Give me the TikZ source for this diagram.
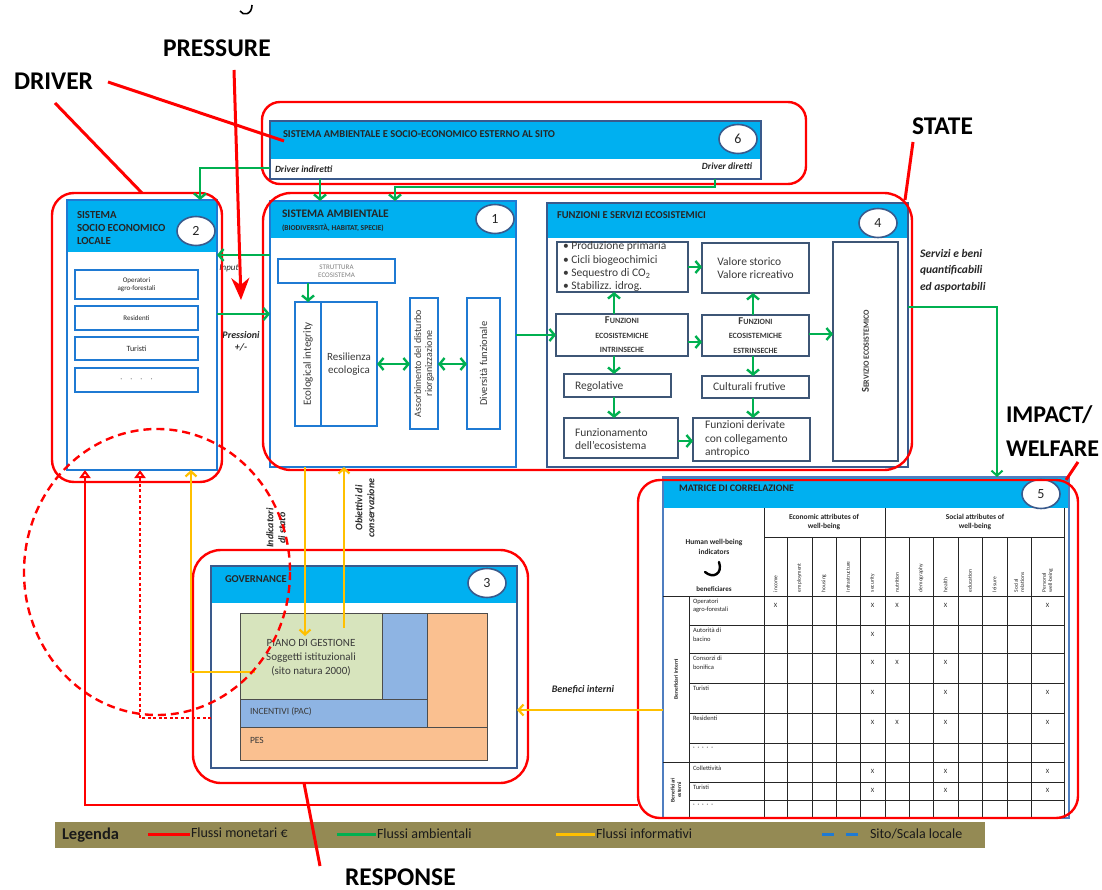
\documentclass[tikz,border=0pt]{standalone}
\usepackage{fontspec}
\setmainfont{Carlito}
\usetikzlibrary{arrows.meta,shapes.geometric}

\definecolor{hdr}{HTML}{00B0F0}
\definecolor{bluA}{HTML}{1F7AD3}
\definecolor{bluM}{HTML}{4F7EC0}
\definecolor{bluD}{HTML}{3A5A8C}
\definecolor{slate}{HTML}{3E5676}
\definecolor{grn}{HTML}{00B050}
\definecolor{ylw}{HTML}{FFC000}
\definecolor{rd}{HTML}{FF0000}
\definecolor{olive}{HTML}{948A54}
\definecolor{pgreen}{HTML}{D7E4BD}
\definecolor{pblue}{HTML}{8EB4E3}
\definecolor{porange}{HTML}{FAC090}
\definecolor{ink}{HTML}{262626}
\definecolor{ink2}{HTML}{3A3A3A}
\definecolor{legtext}{HTML}{1A1A1A}

\newcommand{\fs}[2]{\fontsize{#1}{#2}\selectfont}
\newcommand{\smc}[1]{{\fontsize{10.5}{14.5}\selectfont #1}}

\begin{document}
\begin{tikzpicture}[x=1pt,y=-1pt,
  every node/.style={inner sep=0pt, outer sep=0pt, text=ink},
  redframe/.style={draw=rd, line width=2.4pt, rounded corners=#1, anchor=north west},
  panel/.style 2 args={draw=#1, line width=2pt, fill=white, anchor=north west,
    path picture={\fill[hdr] (path picture bounding box.north west) rectangle ([yshift=-#2]path picture bounding box.north east);}},
  num/.style={ellipse, draw=bluD, line width=1.6pt, fill=white, minimum width=38pt, minimum height=29pt, font=\fs{14}{16}},
  big/.style={font=\bfseries\fs{25.5}{30}, text=black, anchor=base west},
  ttl/.style={font=\bfseries\fs{10.5}{13}, anchor=west, align=left},
  ibox/.style={draw=bluA, line width=2.4pt, fill=white, anchor=north west, align=center},
  sbox/.style={draw=slate, line width=2.4pt, fill=white, anchor=north west},
  rot/.style={rotate=90, align=center},
  txt4/.style={font=\fs{11.5}{13.3}, text=ink2},
  sc4/.style={font=\bfseries\fs{8}{14.5}, align=center, text=ink2},
  cell/.style={draw=black!70, line width=0.7pt, anchor=north west},
  tline/.style={draw=black!85, line width=0.8pt},
  xm/.style={font=\fs{6.5}{7}},
  rowlab/.style={font=\fs{6.5}{8.5}, anchor=north west, align=left},
  collab/.style={font=\fs{5.5}{6.2}, rotate=90, anchor=west, align=left},
  legt/.style={font=\fs{14}{16}, anchor=west, text=legtext},
  gline/.style={draw=grn, line width=2.4pt},
  garrow/.style={gline, -{Straight Barb[length=5pt,width=12pt]}},
  gboth/.style={gline, {Straight Barb[length=5pt,width=12pt]}-{Straight Barb[length=5pt,width=12pt]}},
  yarrow/.style={draw=ylw, line width=2.2pt, -{Straight Barb[length=5pt,width=11pt]}},
  rline/.style={draw=rd, line width=3pt},
  rarrow/.style={draw=rd, line width=2.2pt, -{Triangle[open, length=8pt, width=11pt]}},
  lbl/.style={font=\bfseries\itshape\fs{10}{12}}
]
\useasboundingbox (0,0) rectangle (1102,890);
\fill[white] (0,0) rectangle (1102,890);

% ---------- headline words of the DPSIR scheme
\draw[line width=1.6pt] (252,5) .. controls (252,15) and (243,16) .. (240,11);
\node[big] (prs) at (163,57) {PRESSURE};
\node[big] (drv) at (14,90) {DRIVER};
\node[big] (st) at (912,135) {STATE};
\node[big, font=\bfseries\fs{24}{28}] (imp) at (1006,422) {IMPACT/};
\node[big, font=\bfseries\fs{24}{28}] (wel) at (1006,456) {WELFARE};
\node[big] (rsp) at (345,885) {RESPONSE};

% ---------- 6: external system
\node[panel={bluD}{38pt}, minimum width=491pt, minimum height=58pt] (p6) at (270,121) {};
\node[ttl] (t6) at (283,134) {SISTEMA AMBIENTALE E SOCIO-ECONOMICO ESTERNO AL SITO};
\node[font=\bfseries\itshape\fs{9.5}{11}, anchor=west] (di) at (275,169) {Driver indiretti};
\node[font=\bfseries\itshape\fs{9.5}{11}, anchor=east] (dd) at (752,166) {Driver diretti};
\node[num] (n6) at (738,139) {6};

% ---------- 2: local socio-economic system
\node[panel={bluA}{52pt}, minimum width=150pt, minimum height=270pt] (p2) at (67,200) {};
\node[ttl, font=\bfseries\fs{10.8}{13}] (t2) at (77,228) {SISTEMA\\SOCIO ECONOMICO\\LOCALE};
\node[num] (n2) at (196,231) {2};
\node[ibox, minimum width=123pt, minimum height=29pt, font=\fs{7}{8.5}] (o1) at (75,270) {Operatori\\agro-forestali};
\node[ibox, minimum width=123pt, minimum height=24pt, font=\fs{7}{8.5}] (o2) at (75,306) {Residenti};
\node[ibox, minimum width=123pt, minimum height=23pt, font=\fs{8}{9}] (o3) at (75,337) {Turisti};
\node[ibox, minimum width=123pt, minimum height=24pt, font=\fs{8}{9}, text=gray] (o4) at (75,368) {·\quad·\quad·\quad·};

% ---------- 1: environmental system
\node[panel={bluA}{37pt}, minimum width=246pt, minimum height=266pt] (p1) at (270,201) {};
\node[ttl, font=\bfseries\fs{11.5}{13}] (t1) at (282,214) {SISTEMA AMBIENTALE};
\node[ttl, font=\bfseries\fs{7.5}{9}] (t1b) at (282,228) {(BIODIVERSITÀ, HABITAT, SPECIE)};
\node[num] (n1) at (495,219) {1};
\node[ibox, minimum width=117pt, minimum height=24pt, font=\fs{7}{8}, text=gray] (s1) at (278,259) {STRUTTURA\\ECOSISTEMA};
\node[ibox, minimum width=26pt, minimum height=124pt] (eco) at (295,302) {};
\node[ibox, minimum width=56pt, minimum height=124pt, font=\fs{11}{13}, text=ink2] (res) at (321,302) {Resilienza\\ecologica};
\node[ibox, minimum width=28pt, minimum height=131pt] (ass) at (410,298) {};
\node[ibox, minimum width=33pt, minimum height=131pt] (div) at (467,298) {};
\node[rot, font=\fs{11}{12}, text=ink2] (teco) at (eco.center) {Ecological integrity};
\node[rot, font=\fs{10}{11}, text=ink2] (tass) at (ass.center) {Assorbimento del disturbo\\riorganizzazione};
\node[rot, font=\fs{10.5}{12}, text=ink2] (tdiv) at (div.center) {Diversità funzionale};

% ---------- 4: ecosystem functions and services
\node[panel={bluD}{35pt}, minimum width=361pt, minimum height=264pt] (p4) at (547,203) {};
\node[ttl, font=\bfseries\fs{10.5}{12}] (t4) at (557,215) {FUNZIONI E SERVIZI ECOSISTEMICI};
\node[num] (n4) at (878,223) {4};
\node[sbox, minimum width=131pt, minimum height=50pt] (bul) at (557,242) {};
\node[txt4, anchor=north west, align=left] (tbul) at (563,242) {• Produzione primaria\\• Cicli biogeochimici\\• Sequestro di CO\textsubscript{2}\\• Stabilizz. idrog.};
\node[sbox, minimum width=107pt, minimum height=50pt] (val) at (702,243) {};
\node[txt4, align=left] (tval) at (val.center) {Valore storico\\Valore ricreativo};
\node[sbox, minimum width=132pt, minimum height=42pt] (intr) at (556,314) {};
\node[sc4] (tintr) at (intr.center) {\smc{F}UNZIONI\\ECOSISTEMICHE\\INTRINSECHE};
\node[sbox, minimum width=107pt, minimum height=41pt] (estr) at (702,315) {};
\node[sc4] (testr) at (estr.center) {\smc{F}UNZIONI\\ECOSISTEMICHE\\ESTRINSECHE};
\node[sbox, minimum width=65pt, minimum height=219pt] (serv) at (833,242) {};
\node[sc4, rotate=90] (tserv) at (serv.center) {\smc{S}ERVIZIO ECOSISTEMICO};
\node[sbox, minimum width=107pt, minimum height=23pt] (reg) at (564,374) {};
\node[txt4, anchor=west] (treg) at (575,386) {Regolative};
\node[sbox, minimum width=114pt, minimum height=40pt] (funz) at (564,418) {};
\node[txt4, anchor=west, align=left] (tfunz) at (575,439) {Funzionamento\\dell’ecosistema};
\node[sbox, minimum width=107pt, minimum height=22pt] (cult) at (702,376) {};
\node[txt4, anchor=west] (tcult) at (713,387) {Culturali frutive};
\node[sbox, minimum width=117pt, minimum height=43pt] (der) at (693,418) {};
\node[txt4, anchor=west, align=left] (tder) at (705,439) {Funzioni derivate\\con collegamento\\antropico};

% ---------- 5: correlation matrix
\node[panel={bluM}{31pt}, minimum width=406pt, minimum height=341pt] (p5) at (663,477) {};
\node[ttl, font=\bfseries\fs{10}{12}] (t5) at (679,488) {MATRICE DI CORRELAZIONE};
\node[num] (n5) at (1041,494) {5};
\foreach \x in {787,812,836,860,909,933,958,982,1007,1031} \draw[tline] (\x,537) -- (\x,818);
\foreach \x in {764,885,1064} \draw[tline] (\x,508) -- (\x,818);
\draw[tline] (689,596) -- (689,818);
\draw[tline] (764,537) -- (1064,537);
\draw[tline] (663,596) -- (1064,596);
\foreach \y in {625,653,683,713,743,782,800} \draw[tline] (689,\y) -- (1064,\y);
\draw[tline] (663,762) -- (1064,762);
\node[font=\bfseries\fs{7.5}{9}, align=center] (eh) at (824,522) {Economic attributes of\\well-being};
\node[font=\bfseries\fs{7.5}{9}, align=center] (sh) at (975,522) {Social attributes of\\well-being};
\node[font=\bfseries\fs{7.5}{9.5}, align=center] (hw) at (714,547) {Human well-being\\indicators};
\draw[line width=2.4pt, line cap=round] (719,562) .. controls (723,574) and (713,579) .. (705,572);
\node[font=\bfseries\fs{7}{8}] (bn) at (714,589) {beneficiares};
\foreach \x/\t [count=\i] in {775.5/income, 799.5/employment, 824/housing, 848/infrastructure,
    872.5/security, 897/nutrition, 921/demography, 945.5/health, 970/education, 994.5/leisure,
    1019/{Social\\relations}, 1047.5/{Personal\\well-being}}
  \node[collab, name=col\i] at (\x,592) {\t};
\foreach \y/\t [count=\i] in {599/{Operatori\\agro-forestali}, 628/{Autorità di\\bacino},
    656/{Consorzi di\\bonifica}, 686/Turisti, 716/Residenti, 747/{·\ \ ·\ \ ·\ \ ·\ \ ·},
    766/Collettività, 785/Turisti, 804/{·\ \ ·\ \ ·\ \ ·\ \ ·}}
  \node[rowlab, name=row\i] at (693,\y) {\t};
\node[rot, font=\bfseries\fs{5.5}{6.5}] (gi) at (676,679) {Beneficiari interni};
\node[rot, font=\bfseries\fs{5.5}{6.5}] (ge) at (676,790) {Beneficiari\\esterni};
\foreach \x/\y [count=\i] in {775.5/605, 872.5/605, 897/605, 945.5/605, 1047.5/605,
    872.5/634, 872.5/662, 897/662, 945.5/662,
    872.5/692, 945.5/692, 1047.5/692,
    872.5/722, 897/722, 945.5/722, 1047.5/722,
    872.5/771, 945.5/771, 1047.5/771,
    872.5/790, 945.5/790, 1047.5/790}
  \node[xm, name=xm\i] at (\x,\y) {X};

% ---------- 3: governance
\node[panel={bluD}{37pt}, minimum width=306pt, minimum height=202pt] (p3) at (211,566) {};
\node[ttl, font=\bfseries\fs{10.5}{12}] (t3) at (225,579) {GOVERNANCE};
\node[num] (n3) at (487,583) {3};
\node[cell, fill=pgreen, minimum width=142pt, minimum height=86pt] (pg) at (240,613) {};
\node[cell, fill=pblue, minimum width=45pt, minimum height=86pt] (pbv) at (382,613) {};
\node[cell, fill=pblue, minimum width=187pt, minimum height=28pt] (pinc) at (240,699) {};
\node[cell, fill=porange, minimum width=60pt, minimum height=114pt] (por) at (427,613) {};
\node[cell, fill=porange, minimum width=247pt, minimum height=33pt] (pes) at (240,727) {};
\node[font=\fs{11}{14}, align=center, text=ink2] (tpg) at (311,658) {PIANO DI GESTIONE\\Soggetti istituzionali\\(sito natura 2000)};
\node[font=\fs{9.5}{11}, anchor=west, text=ink2] (tinc) at (250,712) {INCENTIVI (PAC)};
\node[font=\fs{9.5}{11}, anchor=west, text=ink2] (tpes) at (250,740) {PES};

% ---------- flow labels
\node[font=\itshape\fs{9}{11}] (lin) at (229,268) {Input};
\node[lbl, align=center] (lpr) at (241,341) {Pressioni\\+/-};
\node[lbl, align=left, anchor=north west, font=\bfseries\itshape\fs{11.5}{16.5}] (lsv) at (920,249) {Servizi e beni\\quantificabili\\ed asportabili};
\node[lbl] (lbi) at (583,690) {Benefici interni};
\node[lbl, rot] (lind) at (276,528) {Indicatori\\di stato};
\node[lbl, rot] (lobi) at (365,508) {Obiettivi di\\conservazione};

% ---------- legend
\node[fill=olive, anchor=north west, minimum width=930pt, minimum height=26pt] (leg) at (55,822) {};
\node[font=\bfseries\fs{16.5}{18}, anchor=west, text=legtext] (lg) at (62,835) {Legenda};
\draw[draw=rd, line width=3pt] (148,834) -- (190,834);
\node[legt] (l1) at (191,833) {Flussi monetari €};
\draw[draw=grn, line width=3pt] (337,834) -- (376,834);
\node[legt] (l2) at (377,834) {Flussi ambientali};
\draw[draw=ylw, line width=3pt] (556,834) -- (595,834);
\node[legt] (l3) at (596,834) {Flussi informativi};
\draw[draw=bluA, line width=3pt] (822,834) -- (834,834) (846,834) -- (858,834);
\node[legt] (l4) at (870,834) {Sito/Scala locale};

% ---------- red DPSIR frames
\node[redframe=18pt, minimum width=544pt, minimum height=82pt] (fr6) at (262,102) {};
\node[redframe=22pt, minimum width=170pt, minimum height=289pt] (fr2) at (52,193) {};
\node[redframe=28pt, minimum width=649pt, minimum height=277pt] (frS) at (263,193) {};
\node[redframe=22pt, minimum width=440pt, minimum height=338pt] (fr5) at (638,480) {};
\node[redframe=28pt, minimum width=335pt, minimum height=233pt] (fr3) at (193,550) {};

% ---------- environmental flows
\draw[garrow] (p6.west |- 0,168) -| (p2.north -| 200,0);
\draw[garrow] (p6.south -| 320,0) -- (p1.north -| 320,0);
\draw[garrow] (p6.south -| 715,0) |- (395,187) -- (p1.north -| 395,0);
\draw[garrow] (p1.west |- 0,255) -- (p2.east |- 0,255);
\draw[garrow] (p2.east |- 0,314) -- (p1.west |- 0,314);
\draw[garrow] (s1.south -| 308,0) -- (eco.north -| 308,0);
\draw[gboth] (res.east) -- (ass.west |- res.east);
\draw[gboth] (ass.east |- res.east) -- (div.west |- res.east);
\draw[garrow] (p1.east |- intr.west) -- (intr.west);
\draw[garrow] (intr.north -| 614,0) -- (bul.south -| 614,0);
\draw[garrow] (bul.east |- 0,267) -- (val.west |- 0,267);
\draw[garrow] (intr.east |- 0,342) -- (estr.west |- 0,342);
\draw[garrow] (estr.north -| 753,0) -- (val.south -| 753,0);
\draw[garrow] (estr.east |- 0,334) -- (serv.west |- 0,334);
\draw[garrow] (intr.south -| 614,0) -- (reg.north -| 614,0);
\draw[garrow] (reg.south -| 614,0) -- (funz.north -| 614,0);
\draw[garrow] (funz.east |- 0,441) -- (der.west |- 0,441);
\draw[garrow] (estr.south -| 753,0) -- (cult.north -| 753,0);
\draw[garrow] (cult.south -| 753,0) -- (der.north -| 753,0);
\draw[draw=grn, line width=2pt, -{Straight Barb[length=5pt,width=11pt]}] (p4.east |- 0,307) -| (p5.north -| 997,0);

% ---------- information flows
\coordinate (pgin) at (305,636);
\coordinate (pgout) at (344,628);
\coordinate (pgl) at (255,672);
\draw[yarrow] (p1.south -| 305,0) -- (pgin);
\draw[yarrow] (pgout) -- (p1.south -| 344,0);
\draw[yarrow] (pgl) -| (p2.south -| 191,0);
\draw[yarrow] (p5.west |- 0,710) -- (p3.east |- 0,710);

% ---------- monetary flows
\draw[rarrow] (fr5.west |- 0,805) -| (p2.south -| 85,0);
\draw[rarrow, dash pattern=on 3pt off 2.5pt] (p3.west |- 0,718) -| (p2.south -| 140,0);
\draw[draw=rd, line width=2.4pt, dash pattern=on 8pt off 5pt] (157,572) ellipse [x radius=133, y radius=143];

% ---------- pointers from the DPSIR words
\coordinate (dv1) at (108,82);
\coordinate (dv2) at (55,103);
\coordinate (d6) at (284,141);
\coordinate (pr0) at (234,70);
\coordinate (pr1) at (241,300);
\coordinate (st0) at (913,142);
\coordinate (im0) at (1078,462);
\coordinate (rs1) at (320,866);
\draw[rline] (dv1) -- (d6);
\draw[rline] (dv2) -- (fr2.north -| 142,0);
\draw[rline, -{Stealth[length=22pt,width=18pt]}] (pr0) -- (pr1);
\draw[rline] (st0) -- ([xshift=-7pt,yshift=-7pt]frS.north east);
\draw[rline] (im0) -- (fr5.north -| 1066,0);
\draw[rline] (fr3.south -| 304,0) -- (rs1);
\end{tikzpicture}
\end{document}
